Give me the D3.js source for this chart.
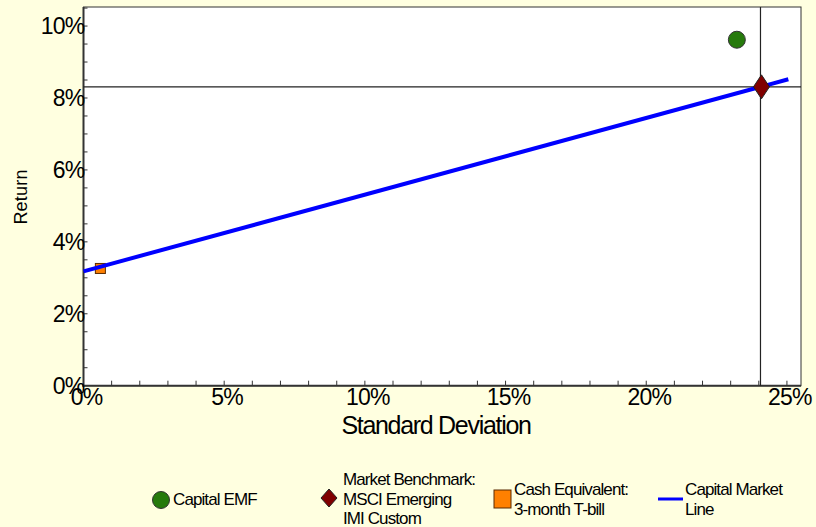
<!DOCTYPE html>
<html><head><meta charset="utf-8">
<script src="https://cdn.jsdelivr.net/npm/d3@7"></script>
<style>
html,body{margin:0;padding:0;background:#FFFFE0;}
text{font-family:"Liberation Sans",Arial,sans-serif;fill:#000;}
</style></head>
<body>
<svg id="chart" width="816" height="527"></svg>
<script>
// ---- data ----
const xTicks = [0, 5, 10, 15, 20, 25];
const yTicks = [0, 2, 4, 6, 8, 10];
const fundNames = ["Capital EMF"];
const fundSD = [23.22];
const fundReturn = [9.62];
const benchmarkSD = [24.06];
const benchmarkReturn = [8.31];
const cashSD = [0.6];
const cashReturn = [3.26];
const cmlSD = [0, 25.05];
const cmlReturn = [3.18, 8.52];
const legendLabels = [["Capital EMF"], ["Market Benchmark:", "MSCI Emerging", "IMI Custom"], ["Cash Equivalent:", "3-month T-bill"], ["Capital Market", "Line"]];

const svg = d3.select("#chart");
const L = 83.5, R = 801, T = 7, B = 385.7;
const x = d3.scaleLinear().domain([0, 25.5]).range([L, R]);
const y = d3.scaleLinear().domain([0, 10.53]).range([B, T]);

svg.append("rect").attr("x", 0).attr("y", 0).attr("width", 816).attr("height", 527).attr("fill", "#FFFFE0");
svg.append("rect").attr("x", L).attr("y", T).attr("width", R - L).attr("height", B - T)
  .attr("fill", "#fff").attr("stroke", "#333").attr("stroke-width", 1);

// minor ticks
const g = svg.append("g");
d3.range(0, 25.01, 1).forEach(v => {
  g.append("line").attr("x1", x(v)).attr("x2", x(v)).attr("y1", B).attr("y2", B - 5).attr("stroke", "#333");
});
d3.range(0, 10.51, 0.5).forEach(v => {
  g.append("line").attr("x1", L).attr("x2", L + 4).attr("y1", y(v)).attr("y2", y(v)).attr("stroke", "#333");
});

// axes lines
svg.append("line").attr("x1", L).attr("x2", L).attr("y1", T).attr("y2", B + 1).attr("stroke", "#333").attr("stroke-width", 2);
svg.append("line").attr("x1", L - 1).attr("x2", R).attr("y1", B).attr("y2", B).attr("stroke", "#333").attr("stroke-width", 2);

// tick labels
svg.selectAll(".yt").data(yTicks).enter().append("text")
  .attr("x", L + 1).attr("y", d => y(d)).attr("dy", "0.36em").attr("text-anchor", "end")
  .attr("font-size", 23).attr("letter-spacing", -0.8).text(d => d + "%");
svg.selectAll(".xt").data(xTicks).enter().append("text")
  .attr("x", d => x(d) + 3).attr("y", 405).attr("text-anchor", "middle")
  .attr("font-size", 23).attr("letter-spacing", -0.8).text(d => d + "%");

// axis titles
svg.append("text").attr("transform", "translate(27,197) rotate(-90)").attr("text-anchor", "middle")
  .attr("font-size", 18).attr("letter-spacing", 0.2).text("Return");
svg.append("text").attr("x", 436).attr("y", 434).attr("text-anchor", "middle")
  .attr("font-size", 25).attr("letter-spacing", -1.3).text("Standard Deviation");

// reference lines
svg.append("line").attr("x1", L).attr("x2", R).attr("y1", y(benchmarkReturn[0])).attr("y2", y(benchmarkReturn[0]))
  .attr("stroke", "#222").attr("stroke-width", 1.2);
svg.append("line").attr("x1", x(benchmarkSD[0])).attr("x2", x(benchmarkSD[0])).attr("y1", T).attr("y2", B)
  .attr("stroke", "#222").attr("stroke-width", 1.2);

// cash square
svg.selectAll(".cash").data(cashSD).enter().append("rect")
  .attr("x", (d) => x(d) - 5).attr("y", (d, i) => y(cashReturn[i]) - 5).attr("width", 10).attr("height", 10)
  .attr("fill", "#FF8000").attr("stroke", "#5a2a00").attr("stroke-width", 1);

// CML
const line = d3.line().x(d => x(d[0])).y(d => y(d[1]));
svg.append("path").datum(cmlSD.map((d, i) => [d, cmlReturn[i]])).attr("d", line)
  .attr("stroke", "#0000FF").attr("stroke-width", 4).attr("fill", "none");

// benchmark diamond
const diamond = (cx, cy, w, h) => `M${cx},${cy - h}L${cx + w},${cy}L${cx},${cy + h}L${cx - w},${cy}Z`;
svg.selectAll(".bm").data(benchmarkSD).enter().append("path")
  .attr("d", (d, i) => diamond(x(d) + 1, y(benchmarkReturn[i]), 8, 12))
  .attr("fill", "#800000").attr("stroke", "#222").attr("stroke-width", 1);

// fund circle
svg.selectAll(".fund").data(fundSD).enter().append("circle")
  .attr("cx", d => x(d)).attr("cy", (d, i) => y(fundReturn[i])).attr("r", 8.5)
  .attr("fill", "#267a0c").attr("stroke", "#333").attr("stroke-width", 1);

// legend
const lg = svg.append("g");
lg.append("circle").attr("cx", 161).attr("cy", 500).attr("r", 8.5).attr("fill", "#267a0c").attr("stroke", "#333");
lg.append("path").attr("d", diamond(329, 498, 8, 9)).attr("fill", "#800000").attr("stroke", "#222");
lg.append("rect").attr("x", 494).attr("y", 490).attr("width", 17).attr("height", 18).attr("fill", "#FF8000").attr("stroke", "#5a2a00");
lg.append("line").attr("x1", 658).attr("x2", 683).attr("y1", 499).attr("y2", 499).attr("stroke", "#0000FF").attr("stroke-width", 3);

const legendPos = [[173, [499]], [343, [479, 498.5, 518]], [514, [489, 508.5]], [685, [489, 508.5]]];
legendLabels.forEach((lines, i) => {
  lines.forEach((t, j) => {
    lg.append("text").attr("x", legendPos[i][0]).attr("y", legendPos[i][1][j]).attr("dy", "0.36em")
      .attr("font-size", 17).attr("letter-spacing", -0.9).text(t);
  });
});
</script>
</body></html>
